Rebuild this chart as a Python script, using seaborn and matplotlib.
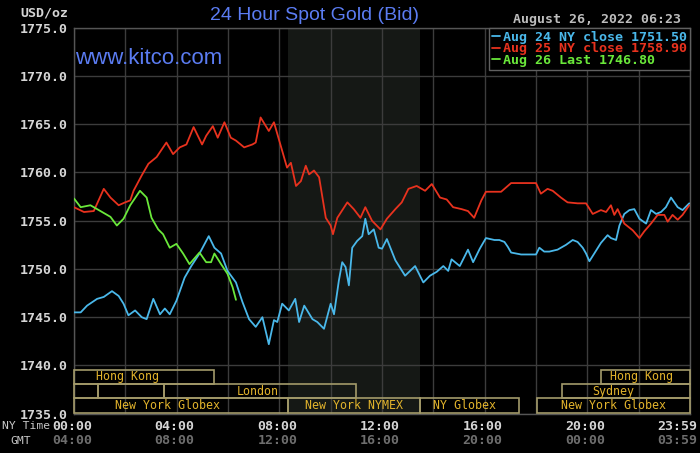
import matplotlib
matplotlib.use("Agg")
import matplotlib.pyplot as plt
import matplotlib.patches as patches
import seaborn as sns
import pandas as pd

# -------------------------
# Price data (NY time in hours, USD/oz)
# -------------------------
aug24_hours = [0.0, 0.26, 0.51, 0.9, 1.16, 1.48, 1.74, 1.93, 2.12, 2.38, 2.64, 2.83, 3.09, 3.35,
               3.54, 3.73, 3.99, 4.31, 4.57, 4.89, 5.25, 5.47, 5.73, 5.98, 6.31, 6.56, 6.82, 7.08,
               7.34, 7.59, 7.79, 7.92, 8.11, 8.37, 8.62, 8.77, 8.97, 9.29, 9.48, 9.74, 10.0, 10.13,
               10.32, 10.45, 10.58, 10.71, 10.84, 11.03, 11.23, 11.35, 11.48, 11.68, 11.87, 12.0,
               12.19, 12.52, 12.9, 13.29, 13.61, 13.87, 14.13, 14.39, 14.58, 14.71, 15.03, 15.35,
               15.55, 15.81, 16.05, 16.38, 16.57, 16.77, 16.9, 17.03, 17.42, 18.0, 18.13, 18.32,
               18.52, 18.84, 19.17, 19.43, 19.62, 19.82, 19.95, 20.08, 20.27, 20.53, 20.79, 20.92,
               21.12, 21.25, 21.44, 21.64, 21.83, 22.03, 22.29, 22.48, 22.68, 22.87, 23.06, 23.26,
               23.52, 23.71, 23.97]
aug24_prices = [1745.5, 1745.5, 1746.2, 1746.9, 1747.1, 1747.7, 1747.2, 1746.4, 1745.2, 1745.7,
                1745.0, 1744.8, 1746.9, 1745.3, 1745.9, 1745.3, 1746.7, 1749.1, 1750.3, 1751.6,
                1753.4, 1752.2, 1751.6, 1749.8, 1748.6, 1746.6, 1744.8, 1744.0, 1745.0, 1742.2,
                1744.7, 1744.5, 1746.4, 1745.7, 1746.9, 1744.5, 1746.2, 1744.8, 1744.5, 1743.8,
                1746.4, 1745.3, 1748.8, 1750.7, 1750.2, 1748.3, 1752.2, 1752.9, 1753.4, 1755.2,
                1753.6, 1754.1, 1752.2, 1752.1, 1753.1, 1750.9, 1749.3, 1750.3, 1748.6, 1749.3,
                1749.7, 1750.3, 1749.8, 1751.0, 1750.3, 1752.0, 1750.7, 1752.1, 1753.2, 1753.0,
                1753.0, 1752.8, 1752.3, 1751.7, 1751.5, 1751.5, 1752.2, 1751.8, 1751.8, 1752.0,
                1752.5, 1753.0, 1752.8, 1752.2, 1751.6, 1750.8, 1751.6, 1752.7, 1753.5, 1753.2,
                1753.0, 1754.5, 1755.7, 1756.1, 1756.2, 1755.2, 1754.7, 1756.1, 1755.7, 1755.9,
                1756.4, 1757.4, 1756.4, 1756.1, 1756.8]

aug25_hours = [0.0, 0.39, 0.77, 1.16, 1.42, 1.74, 1.99, 2.19, 2.32, 2.64, 2.9, 3.22, 3.6, 3.86,
               4.12, 4.38, 4.66, 4.99, 5.15, 5.41, 5.6, 5.86, 6.11, 6.31, 6.63, 6.95, 7.08, 7.27,
               7.59, 7.79, 8.04, 8.3, 8.45, 8.65, 8.84, 9.03, 9.16, 9.35, 9.55, 9.68, 9.81, 10.0,
               10.09, 10.26, 10.65, 10.9, 11.16, 11.35, 11.61, 11.94, 12.19, 12.52, 12.77, 13.03,
               13.35, 13.68, 13.94, 14.26, 14.52, 14.77, 15.1, 15.35, 15.59, 15.87, 16.05, 16.31,
               16.64, 17.03, 18.0, 18.19, 18.45, 18.65, 18.97, 19.23, 19.62, 19.95, 20.21, 20.53,
               20.73, 20.92, 21.05, 21.18, 21.44, 21.77, 22.03, 22.22, 22.48, 22.74, 23.0, 23.13,
               23.32, 23.52, 23.71, 23.97]
aug25_prices = [1756.4, 1755.9, 1756.0, 1758.3, 1757.4, 1756.6, 1756.9, 1757.1, 1758.1, 1759.7,
                1760.9, 1761.6, 1763.1, 1761.9, 1762.6, 1762.9, 1764.7, 1762.9, 1763.8, 1764.8,
                1763.6, 1765.2, 1763.6, 1763.3, 1762.6, 1762.9, 1763.1, 1765.7, 1764.3, 1765.2,
                1762.9, 1760.5, 1761.0, 1758.6, 1759.1, 1760.7, 1759.8, 1760.2, 1759.5, 1757.4,
                1755.3, 1754.5, 1753.6, 1755.3, 1756.9, 1756.2, 1755.3, 1756.4, 1755.0, 1754.1,
                1755.2, 1756.2, 1756.9, 1758.3, 1758.6, 1758.1, 1758.8, 1757.4, 1757.2, 1756.4,
                1756.2, 1756.0, 1755.3, 1757.1, 1758.0, 1758.0, 1758.0, 1758.9, 1758.9, 1757.8,
                1758.3, 1758.1, 1757.4, 1756.9, 1756.8, 1756.8, 1755.7, 1756.1, 1755.9, 1756.6,
                1755.6, 1756.2, 1754.7, 1754.0, 1753.2, 1753.9, 1754.7, 1755.6, 1755.6, 1754.9,
                1755.6, 1755.1, 1755.6, 1756.6]

aug26_hours = [0.0, 0.26, 0.64, 1.03, 1.42, 1.67, 1.93, 2.19, 2.57, 2.83, 3.02, 3.28, 3.47, 3.73,
               3.99, 4.25, 4.5, 4.89, 5.15, 5.34, 5.47, 5.73, 5.98, 6.18, 6.31]
aug26_prices = [1757.3, 1756.4, 1756.6, 1756.0, 1755.4, 1754.5, 1755.2, 1756.6, 1758.1, 1757.4,
                1755.3, 1754.1, 1753.6, 1752.2, 1752.6, 1751.6, 1750.5, 1751.7, 1750.7, 1750.7,
                1751.6, 1750.5, 1749.5, 1748.1, 1746.8]

series_labels = ["Aug 24 NY close 1751.50", "Aug 25 NY close 1758.90", "Aug 26 Last 1746.80"]
series_colors = ["#4ab8ea", "#e8321e", "#6ae83a"]

# -------------------------
# Trading sessions (row, start hour, end hour)
# -------------------------
session_names = ["Hong Kong", "Hong Kong", "", "", "London", "Sydney",
                 "New York Globex", "New York NYMEX", "NY Globex", "New York Globex"]
session_rows = [0, 0, 1, 1, 1, 1, 2, 2, 2, 2]
session_starts = [0.0, 20.55, 0.0, 0.95, 3.5, 19.0, 0.0, 8.33, 13.5, 18.05]
session_ends = [5.47, 24.0, 0.95, 3.5, 11.0, 24.0, 8.33, 13.5, 17.35, 24.0]
session_label_x = [2.1, 22.11, None, None, 7.17, 21.02, 3.66, 10.92, 15.23, 21.02]

ny_ticks = ["00:00", "04:00", "08:00", "12:00", "16:00", "20:00", "23:59"]
gmt_ticks = ["04:00", "08:00", "12:00", "16:00", "20:00", "00:00", "03:59"]
tick_hours = [0, 4, 8, 12, 16, 20, 24]

MONO = "DejaVu Sans Mono"
SANS = "Liberation Sans"

# -------------------------
# Build a long table for seaborn
# -------------------------
frames = []
for label, hrs, vals in zip(series_labels,
                            [aug24_hours, aug25_hours, aug26_hours],
                            [aug24_prices, aug25_prices, aug26_prices]):
    frames.append(pd.DataFrame({"hours": hrs, "price": vals, "series": label}))
df = pd.concat(frames, ignore_index=True)

sns.set_theme(style="dark", rc={
    "axes.facecolor": "black",
    "figure.facecolor": "black",
    "axes.edgecolor": "#555555",
    "grid.color": "#3c3c3c",
})

fig = plt.figure(figsize=(7.0, 4.53), dpi=100)
ax = fig.add_axes([74 / 700, 1 - 413.7 / 453, 616 / 700, 386 / 453])

# NYMEX shaded session
ax.axvspan(8.33, 13.5, color="#151815", zorder=0, lw=0)

sns.lineplot(data=df, x="hours", y="price", hue="series",
             palette=dict(zip(series_labels, series_colors)),
             estimator=None, sort=False, linewidth=1.3, ax=ax, zorder=3)

ax.set_xlim(0, 24)
ax.set_ylim(1735, 1775)
ax.set_xticks(range(0, 25, 2))
ax.set_xticklabels([])
ax.set_yticks(range(1735, 1776, 5))
ax.set_yticklabels([f"{v:.1f}" for v in range(1735, 1776, 5)],
                   family=MONO, weight="bold", fontsize=9.5, color="#d6d6d6")
ax.tick_params(axis="both", length=0, pad=4.3)
ax.grid(True, color="#3c3c3c", linewidth=1.0)
ax.set_xlabel("")
ax.set_ylabel("")
for sp in ax.spines.values():
    sp.set_color("#555555")
    sp.set_linewidth(1.0)

# -------------------------
# Session boxes
# -------------------------
row_bottoms = [1738.1, 1736.6, 1735.1]
row_height = 1.48
for name, row, s, e, lx in zip(session_names, session_rows, session_starts,
                               session_ends, session_label_x):
    ax.add_patch(patches.Rectangle((s, row_bottoms[row]), e - s, row_height,
                                   fill=False, edgecolor="#a39a6a", linewidth=1.2,
                                   zorder=4, clip_on=False))
    if name:
        ax.text(lx, row_bottoms[row] + row_height / 2, name, ha="center", va="center",
                family=MONO, fontsize=8.4, color="#e3b42c", zorder=5)

# -------------------------
# Legend
# -------------------------
handles, labels = ax.get_legend_handles_labels()
leg = ax.legend(handles, labels, loc="upper right", borderaxespad=0,
                prop=dict(family=MONO, weight="bold", size=9.6),
                handlelength=0.55, handletextpad=0.25, labelspacing=-0.1,
                borderpad=0.22, fancybox=False, frameon=True, facecolor="black",
                edgecolor="#606060", framealpha=1, labelcolor="linecolor")
leg.get_frame().set_linewidth(1.0)
leg.set_zorder(6)

# -------------------------
# Texts
# -------------------------
def px(x, y):
    return x / 700, 1 - y / 453

fig.text(*px(314, 15), "24 Hour Spot Gold (Bid)", ha="center", va="center",
         family=SANS, fontsize=14, color="#5b7cf2")
ax.text(0.05, 1771.8, "www.kitco.com", ha="left", va="center",
        family=SANS, fontsize=16, color="#5b7cf2", zorder=6)
fig.text(*px(68, 12.5), "USD/oz", ha="right", va="center",
         family=MONO, weight="bold", fontsize=9.5, color="#d6d6d6")
fig.text(*px(681, 19), "August 26, 2022 06:23", ha="right", va="center",
         family=MONO, weight="bold", fontsize=9.5, color="#bdbdbd")

fig.text(*px(2, 426), "NY Time", ha="left", va="center",
         family=MONO, fontsize=8.2, color="#c8c8c8")
fig.text(*px(21, 441), "GMT", ha="center", va="center",
         family=MONO, fontsize=8.2, color="#c8c8c8")
for h, ny, gmt in zip(tick_hours, ny_ticks, gmt_ticks):
    xpx = 74 + h * 25.67 - 2
    ha = "center"
    if h == 24:
        xpx, ha = 697, "right"
    fig.text(*px(xpx, 426), ny, ha=ha, va="center",
             family=MONO, weight="bold", fontsize=9.5, color="#d6d6d6")
    fig.text(*px(xpx, 441), gmt, ha=ha, va="center",
             family=MONO, weight="bold", fontsize=9.5, color="#6e6e6e")

fig.savefig("out.png", dpi=100, facecolor="black")
